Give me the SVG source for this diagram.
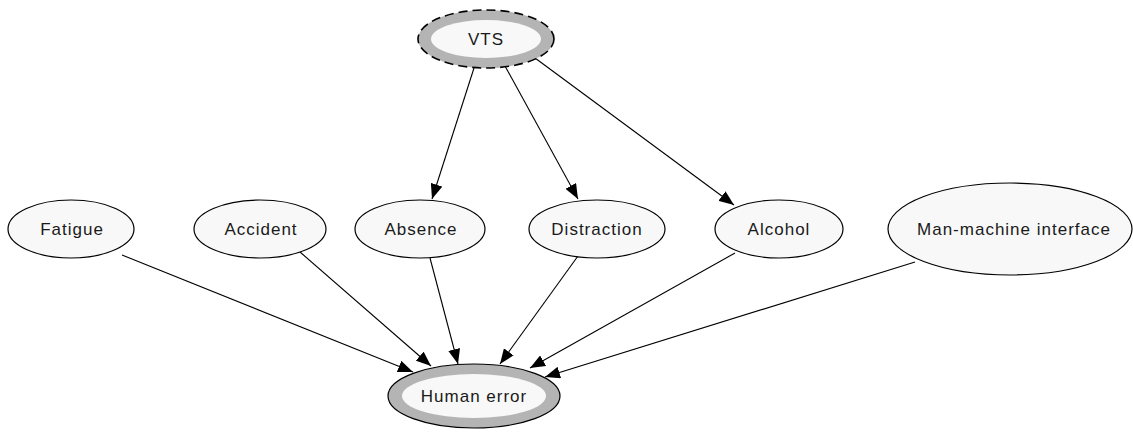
<svg xmlns="http://www.w3.org/2000/svg" width="1133" height="432" viewBox="0 0 1133 432">
  <style>
    .node { fill: #f8f8f8; stroke: #000; stroke-width: 1.2; }
    .ring { fill: #b4b4b4; stroke: #000; stroke-width: 1.2; }
    .inner { fill: #f8f8f8; stroke: none; }
    .dashed { stroke-dasharray: 9 5; stroke-width: 1.6; }
    .label { font-family: "Liberation Sans", Arial, sans-serif; font-size: 17px; letter-spacing: 1px; fill: #1a1a1a; text-anchor: middle; dominant-baseline: central; }
    .edge { stroke: #000; stroke-width: 1.1; fill: none; marker-end: url(#arrow); }
  </style>
  <defs>
    <marker id="arrow" markerUnits="userSpaceOnUse" markerWidth="16" markerHeight="12" viewBox="0 0 16 12" refX="15" refY="6" orient="auto">
      <path d="M0,0 L15,6 L0,12 z" fill="#000"/>
    </marker>
  </defs>
  <rect width="1133" height="432" fill="#fff"/>

  <g id="connectors">
    <line class="edge" x1="474" y1="68" x2="432" y2="199"/>
    <line class="edge" x1="505" y1="66" x2="578" y2="199"/>
    <line class="edge" x1="535" y1="58" x2="734" y2="205"/>
    <line class="edge" x1="122" y1="255" x2="413" y2="372"/>
    <line class="edge" x1="300" y1="252" x2="431" y2="366"/>
    <line class="edge" x1="430" y1="258" x2="458" y2="364"/>
    <line class="edge" x1="578" y1="256" x2="500" y2="364"/>
    <line class="edge" x1="735" y1="253" x2="530" y2="368"/>
    <line class="edge" x1="915" y1="262" x2="545" y2="377"/>
  </g>

  <g id="vts">
    <ellipse class="ring dashed" cx="486" cy="39" rx="68" ry="29"/>
    <ellipse class="inner" cx="486" cy="39" rx="55" ry="19"/>
    <text class="label" x="486" y="39">VTS</text>
  </g>

  <g id="fatigue">
    <ellipse class="node" cx="71" cy="229" rx="63" ry="29"/>
    <text class="label" x="72" y="229">Fatigue</text>
  </g>

  <g id="accident">
    <ellipse class="node" cx="260" cy="229" rx="66" ry="29"/>
    <text class="label" x="261" y="229">Accident</text>
  </g>

  <g id="absence">
    <ellipse class="node" cx="420" cy="229" rx="65" ry="29"/>
    <text class="label" x="421" y="229">Absence</text>
  </g>

  <g id="distraction">
    <ellipse class="node" cx="597" cy="229" rx="68" ry="29"/>
    <text class="label" x="597" y="229">Distraction</text>
  </g>

  <g id="alcohol">
    <ellipse class="node" cx="779" cy="229" rx="64" ry="29"/>
    <text class="label" x="779" y="229">Alcohol</text>
  </g>

  <g id="man-machine-interface">
    <ellipse class="node" cx="1010" cy="229" rx="122" ry="46"/>
    <text class="label" x="1014" y="229">Man-machine interface</text>
  </g>

  <g id="human-error">
    <ellipse class="ring" cx="474" cy="396" rx="86" ry="32"/>
    <ellipse class="inner" cx="474" cy="396" rx="72" ry="22"/>
    <text class="label" x="474" y="396">Human error</text>
  </g>
</svg>
